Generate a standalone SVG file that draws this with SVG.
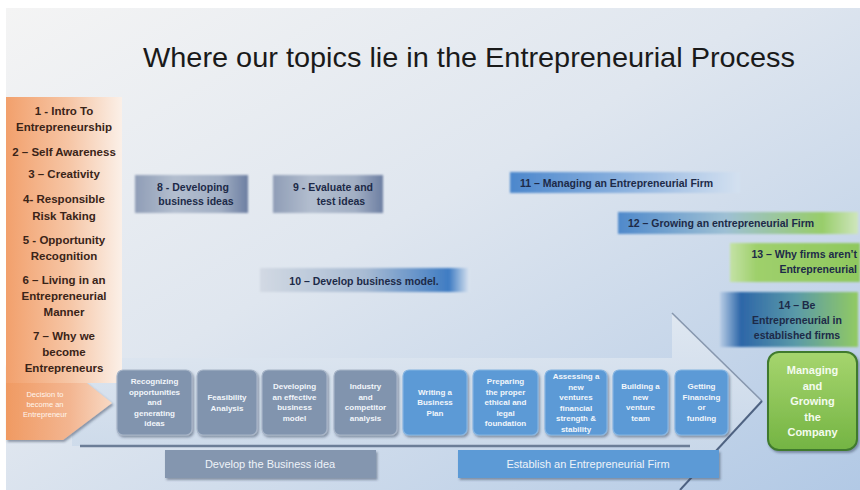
<svg xmlns="http://www.w3.org/2000/svg" width="860" height="490" viewBox="0 0 860 490">
<defs>
<style>
text{font-family:"Liberation Sans",Arial,sans-serif}
.list{font-size:11.5px;font-weight:bold;fill:#3a2418;text-anchor:middle}
.topic{font-size:10.5px;font-weight:bold;fill:#1d2a48}
.step{font-size:8px;font-weight:bold;fill:#f2f6fb;text-anchor:middle}
.gray{fill:#8194ae;stroke:#a7b5c8;stroke-width:1.2}
.blue{fill:#5b9ad6;stroke:#86b5e2;stroke-width:1.2}
.bar{font-size:11px;fill:#eef3f9;text-anchor:middle}
</style>
<linearGradient id="bg" x1="0" y1="0" x2="1" y2="1">
<stop offset="0" stop-color="#f4f4f4"/>
<stop offset="0.45" stop-color="#dfe6ef"/>
<stop offset="1" stop-color="#b2c9e5"/>
</linearGradient>
<linearGradient id="panel" x1="0" y1="0" x2="1" y2="0">
<stop offset="0" stop-color="#f2a06c"/>
<stop offset="0.55" stop-color="#f6c6a6"/>
<stop offset="1" stop-color="#fbf0e8"/>
</linearGradient>
<linearGradient id="dec" x1="0" y1="0" x2="1" y2="0">
<stop offset="0" stop-color="#f09a62"/>
<stop offset="0.6" stop-color="#f3b590"/>
<stop offset="1" stop-color="#f8d9c4"/>
</linearGradient>
<linearGradient id="g8" x1="0" y1="0" x2="1" y2="0">
<stop offset="0" stop-color="#8f9db6"/>
<stop offset="0.35" stop-color="#b3becf"/>
<stop offset="0.75" stop-color="#a2afc4"/>
<stop offset="1" stop-color="#6d7fa2"/>
</linearGradient>
<linearGradient id="g10" x1="0" y1="0" x2="1" y2="0">
<stop offset="0" stop-color="#d2d9e3"/>
<stop offset="0.5" stop-color="#a8bbd3"/>
<stop offset="0.9" stop-color="#3f7cc3"/>
<stop offset="1" stop-color="#dfe7f1"/>
</linearGradient>
<linearGradient id="g11" x1="0" y1="0" x2="1" y2="0">
<stop offset="0" stop-color="#4c87cc"/>
<stop offset="0.5" stop-color="#8cb2df"/>
<stop offset="1" stop-color="#d4e1f0"/>
</linearGradient>
<linearGradient id="g12" x1="0" y1="0" x2="1" y2="0">
<stop offset="0" stop-color="#4f89cb"/>
<stop offset="0.45" stop-color="#9ec0d4"/>
<stop offset="0.85" stop-color="#98cd6a"/>
<stop offset="1" stop-color="#cfe6bd"/>
</linearGradient>
<linearGradient id="g13" x1="0" y1="0" x2="1" y2="0">
<stop offset="0" stop-color="#c4e2a6"/>
<stop offset="0.2" stop-color="#9fd06c"/>
<stop offset="1" stop-color="#8fc85e"/>
</linearGradient>
<linearGradient id="g14" x1="0" y1="0" x2="1" y2="0">
<stop offset="0" stop-color="#b8cde6"/>
<stop offset="0.15" stop-color="#2d66a8"/>
<stop offset="0.55" stop-color="#5a9aa8"/>
<stop offset="1" stop-color="#92ca62"/>
</linearGradient>
<linearGradient id="gm" x1="0" y1="0" x2="0" y2="1">
<stop offset="0" stop-color="#a6d56e"/>
<stop offset="1" stop-color="#74b443"/>
</linearGradient>
<linearGradient id="arrowfill" x1="0" y1="0" x2="0" y2="1">
<stop offset="0" stop-color="#e3eaf2"/>
<stop offset="1" stop-color="#c4d4e7"/>
</linearGradient>
<filter id="soft" x="-5%" y="-20%" width="110%" height="140%">
<feGaussianBlur stdDeviation="1.3"/>
</filter>
<filter id="shadow" x="-10%" y="-10%" width="130%" height="130%">
<feDropShadow dx="1.5" dy="2" stdDeviation="1.2" flood-color="#2d3b52" flood-opacity="0.45"/>
</filter>
</defs>

<rect x="0" y="0" width="860" height="490" fill="#ffffff"/>
<rect x="6" y="8" width="854" height="482" fill="url(#bg)"/>

<text x="469" y="67" font-size="28" fill="#1a1a1a" text-anchor="middle" textLength="652" lengthAdjust="spacingAndGlyphs">Where our topics lie in the Entrepreneurial Process</text>

<g id="process-arrow">
<polygon points="72,358 672,358 672,313 762,401 680,490 680,446 72,446" fill="url(#arrowfill)" opacity="0.85"/>
<line x1="672" y1="313" x2="762" y2="401" stroke="#8797ae" stroke-width="1.6"/>
<line x1="762" y1="401" x2="680" y2="490" stroke="#4f6382" stroke-width="2"/>
<line x1="80" y1="446" x2="690" y2="446" stroke="#6b7d97" stroke-width="2.5"/>
</g>

<g id="decision">
<polygon points="6,364 63,364 112,403 63,440 6,440" fill="url(#dec)" filter="url(#shadow)"/>
<text x="45" y="397" font-size="7.5" fill="#fff6ee" text-anchor="middle">Decision to</text>
<text x="45" y="407" font-size="7.5" fill="#fff6ee" text-anchor="middle">become an</text>
<text x="45" y="417" font-size="7.5" fill="#fff6ee" text-anchor="middle">Entrepreneur</text>
</g>

<g id="topics-1-7">
<rect x="6" y="97" width="116" height="286" fill="url(#panel)"/>
<text class="list" x="64" y="115">1 -  Intro To</text>
<text class="list" x="64" y="131">Entrepreneurship</text>
<text class="list" x="64" y="156">2 – Self Awareness</text>
<text class="list" x="64" y="178">3 – Creativity</text>
<text class="list" x="64" y="203">4- Responsible</text>
<text class="list" x="64" y="220">Risk Taking</text>
<text class="list" x="64" y="244">5 -  Opportunity</text>
<text class="list" x="64" y="260">Recognition</text>
<text class="list" x="64" y="284">6 – Living in an</text>
<text class="list" x="64" y="300">Entrepreneurial</text>
<text class="list" x="64" y="316">Manner</text>
<text class="list" x="64" y="340">7 – Why we</text>
<text class="list" x="64" y="356">become</text>
<text class="list" x="64" y="372">Entrepreneurs</text>
</g>

<g id="topic-8">
<rect x="135" y="175" width="113" height="38" fill="url(#g8)" filter="url(#soft)"/>
<text class="topic" x="193" y="191" text-anchor="middle">8 - Developing</text>
<text class="topic" x="196" y="205" text-anchor="middle">business ideas</text>
</g>
<g id="topic-9">
<rect x="273" y="175" width="110" height="38" fill="url(#g8)" filter="url(#soft)"/>
<text class="topic" x="333" y="191" text-anchor="middle">9 - Evaluate and</text>
<text class="topic" x="341" y="205" text-anchor="middle">test ideas</text>
</g>
<g id="topic-10">
<rect x="260" y="268" width="210" height="24" fill="url(#g10)" filter="url(#soft)"/>
<text class="topic" x="364" y="285" text-anchor="middle">10 – Develop business model.</text>
</g>
<g id="topic-11">
<rect x="510" y="172" width="230" height="21" fill="url(#g11)" filter="url(#soft)"/>
<text class="topic" x="520" y="187">11 – Managing an Entrepreneurial Firm</text>
</g>
<g id="topic-12">
<rect x="618" y="212" width="240" height="22" fill="url(#g12)" filter="url(#soft)"/>
<text class="topic" x="628" y="227">12 – Growing an entrepreneurial Firm</text>
</g>
<g id="topic-13">
<rect x="730" y="243" width="130" height="39" fill="url(#g13)" filter="url(#soft)"/>
<text class="topic" x="857" y="258" text-anchor="end">13 – Why firms aren’t</text>
<text class="topic" x="857" y="273" text-anchor="end">Entrepreneurial</text>
</g>
<g id="topic-14">
<rect x="720" y="292" width="138" height="55" fill="url(#g14)" filter="url(#soft)"/>
<text class="topic" x="797" y="309" text-anchor="middle">14 – Be</text>
<text class="topic" x="797" y="324" text-anchor="middle">Entrepreneurial in</text>
<text class="topic" x="797" y="339" text-anchor="middle">established  firms</text>
</g>

<g id="step-1">
<rect class="gray" x="117" y="370" width="75" height="65" rx="6" filter="url(#shadow)"/>
<text class="step" x="154.5" y="384">Recognizing</text>
<text class="step" x="154.5" y="394.5">opportunities</text>
<text class="step" x="154.5" y="405">and</text>
<text class="step" x="154.5" y="415.5">generating</text>
<text class="step" x="154.5" y="426">ideas</text>
</g>
<g id="step-2">
<rect class="gray" x="197" y="370" width="60" height="65" rx="6" filter="url(#shadow)"/>
<text class="step" x="227" y="400">Feasibility</text>
<text class="step" x="227" y="410.5">Analysis</text>
</g>
<g id="step-3">
<rect class="gray" x="262" y="370" width="65" height="65" rx="6" filter="url(#shadow)"/>
<text class="step" x="294.5" y="389">Developing</text>
<text class="step" x="294.5" y="399.5">an effective</text>
<text class="step" x="294.5" y="410">business</text>
<text class="step" x="294.5" y="420.5">model</text>
</g>
<g id="step-4">
<rect class="gray" x="334" y="370" width="63" height="65" rx="6" filter="url(#shadow)"/>
<text class="step" x="365.5" y="389">Industry</text>
<text class="step" x="365.5" y="399.5">and</text>
<text class="step" x="365.5" y="410">competitor</text>
<text class="step" x="365.5" y="420.5">analysis</text>
</g>
<g id="step-5">
<rect class="blue" x="403" y="370" width="64" height="65" rx="6" filter="url(#shadow)"/>
<text class="step" x="435" y="394.5">Writing a</text>
<text class="step" x="435" y="405">Business</text>
<text class="step" x="435" y="415.5">Plan</text>
</g>
<g id="step-6">
<rect class="blue" x="473" y="370" width="65" height="65" rx="6" filter="url(#shadow)"/>
<text class="step" x="505.5" y="384">Preparing</text>
<text class="step" x="505.5" y="394.5">the proper</text>
<text class="step" x="505.5" y="405">ethical and</text>
<text class="step" x="505.5" y="415.5">legal</text>
<text class="step" x="505.5" y="426">foundation</text>
</g>
<g id="step-7">
<rect class="blue" x="545" y="370" width="62" height="65" rx="6" filter="url(#shadow)"/>
<text class="step" x="576" y="379">Assessing a</text>
<text class="step" x="576" y="389.5">new</text>
<text class="step" x="576" y="400">ventures</text>
<text class="step" x="576" y="410.5">financial</text>
<text class="step" x="576" y="421">strength &amp;</text>
<text class="step" x="576" y="431.5">stability</text>
</g>
<g id="step-8">
<rect class="blue" x="613" y="370" width="55" height="65" rx="6" filter="url(#shadow)"/>
<text class="step" x="640.5" y="389">Building a</text>
<text class="step" x="640.5" y="399.5">new</text>
<text class="step" x="640.5" y="410">venture</text>
<text class="step" x="640.5" y="420.5">team</text>
</g>
<g id="step-9">
<rect class="blue" x="675" y="370" width="53" height="65" rx="6" filter="url(#shadow)"/>
<text class="step" x="701.5" y="389">Getting</text>
<text class="step" x="701.5" y="399.5">Financing</text>
<text class="step" x="701.5" y="410">or</text>
<text class="step" x="701.5" y="420.5">funding</text>
</g>

<g id="managing">
<rect x="768" y="352" width="89" height="98" rx="11" fill="url(#gm)" stroke="#3f7a2e" stroke-width="2" filter="url(#shadow)"/>
<text x="812.5" y="374" font-size="11" font-weight="bold" fill="#f4fbee" text-anchor="middle">Managing</text>
<text x="812.5" y="389.5" font-size="11" font-weight="bold" fill="#f4fbee" text-anchor="middle">and</text>
<text x="812.5" y="405" font-size="11" font-weight="bold" fill="#f4fbee" text-anchor="middle">Growing</text>
<text x="812.5" y="420.5" font-size="11" font-weight="bold" fill="#f4fbee" text-anchor="middle">the</text>
<text x="812.5" y="436" font-size="11" font-weight="bold" fill="#f4fbee" text-anchor="middle">Company</text>
</g>

<g id="phase-develop">
<rect x="165" y="450" width="211" height="28" fill="#8496af" filter="url(#shadow)"/>
<text class="bar" x="270" y="468">Develop the Business idea</text>
</g>
<g id="phase-establish">
<rect x="458" y="450" width="261" height="28" fill="#5b9ad6" filter="url(#shadow)"/>
<text class="bar" x="588" y="468">Establish an Entrepreneurial Firm</text>
</g>
</svg>
